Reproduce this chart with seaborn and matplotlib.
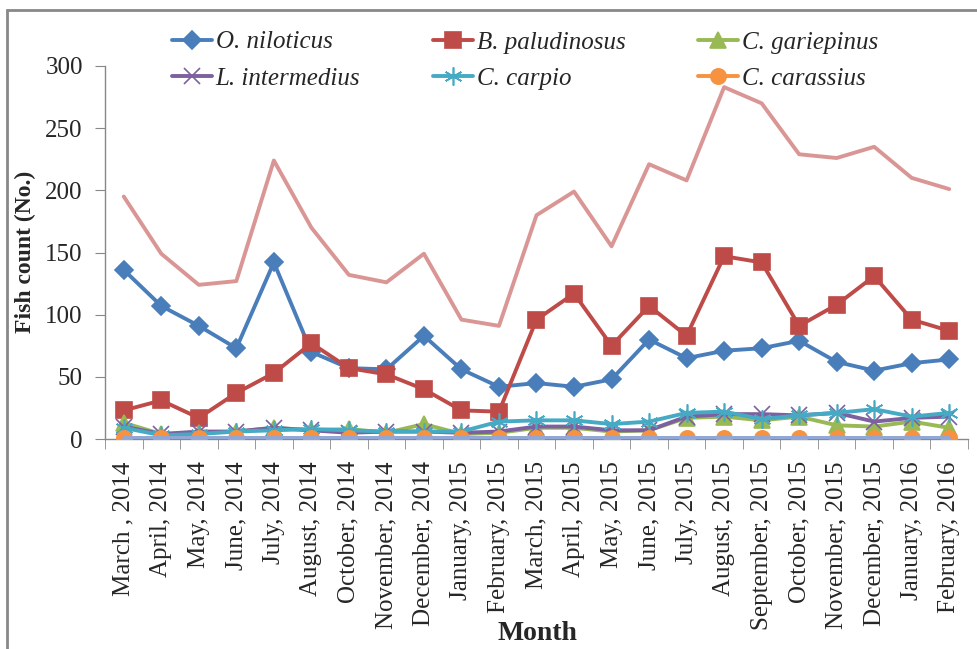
import pandas as pd
import matplotlib
matplotlib.use('Agg')
import matplotlib.pyplot as plt
import seaborn as sns
from matplotlib.patches import Rectangle

months = ["March , 2014", "April, 2014", "May, 2014", "June, 2014", "July, 2014",
          "August, 2014", "October, 2014", "November, 2014", "December, 2014",
          "January, 2015", "February, 2015", "March, 2015", "April, 2015", "May, 2015",
          "June, 2015", "July, 2015", "August, 2015", "September, 2015", "October, 2015",
          "November, 2015", "December, 2015", "January, 2016", "February, 2016"]

niloticus = [136, 107, 91, 73, 142, 70, 57, 56, 83, 56, 42, 45, 42, 48, 80, 65, 71, 73, 79, 62, 55, 61, 64]
paludinosus = [23, 31, 17, 37, 53, 77, 57, 52, 40, 23, 22, 96, 117, 75, 107, 83, 147, 142, 91, 108, 131, 96, 87]
gariepinus = [13, 4, 5, 6, 9, 7, 8, 5, 12, 4, 5, 9, 9, 6, 7, 17, 18, 15, 18, 11, 10, 14, 9]
intermedius = [10, 4, 6, 6, 9, 7, 5, 6, 6, 5, 6, 10, 10, 7, 7, 18, 20, 20, 19, 21, 14, 17, 18]
carpio = [9, 3, 4, 6, 7, 8, 7, 6, 6, 6, 14, 15, 15, 12, 14, 21, 22, 16, 19, 21, 24, 18, 21]
carassius = [1, 1, 1, 1, 1, 1, 1, 1, 1, 1, 1, 1, 1, 1, 1, 1, 1, 1, 1, 1, 1, 1, 1]
other = [1, 1, 1, 1, 1, 1, 1, 1, 1, 1, 1, 1, 1, 1, 1, 1, 1, 1, 1, 1, 1, 1, 1]
total = [195, 149, 124, 127, 224, 170, 132, 126, 149, 96, 91, 180, 199, 155, 221, 208, 283, 270, 229, 226, 235, 210, 201]

serif = ["Liberation Serif", "DejaVu Serif"]
sns.set_style("white")
plt.rcParams["font.family"] = serif

fig = plt.figure(figsize=(9.78, 6.49), dpi=100)
ax = fig.add_axes([105 / 978, 1 - 439 / 649, 863 / 978, 373 / 649])

x = list(range(len(months)))
series = [
    ("O. niloticus", niloticus, "#4A7EBB", "D", 9),
    ("B. paludinosus", paludinosus, "#BE4B48", "s", 11),
    ("C. gariepinus", gariepinus, "#98B954", "^", 11),
    ("L. intermedius", intermedius, "#7D60A0", "x", 11),
    ("C. carpio", carpio, "#46AAC5", (6, 2, 0), 13),
    ("C. carassius", carassius, "#F69240", "o", 11),
]
for name, vals, col, mk, ms in series:
    sns.lineplot(x=x, y=vals, ax=ax, color=col, marker=mk, markersize=ms,
                 markeredgecolor=col, markeredgewidth=1.2, linewidth=2.8,
                 label=name, zorder=3)
sns.lineplot(x=x, y=other, ax=ax, color="#8FA8D8", linewidth=2.8, legend=False, zorder=4)
sns.lineplot(x=x, y=total, ax=ax, color="#D99694", linewidth=2.8, legend=False, zorder=4)

ax.set_xlim(-0.5, len(months) - 0.5)
ax.set_ylim(0, 300)
ax.set_yticks(range(0, 301, 50))
ax.set_xticks(x)
ax.set_xticklabels(months, rotation=90, fontsize=18)
ax.tick_params(axis="x", length=0, pad=16)
ax.set_xticks([i - 0.5 for i in range(len(months) + 1)], minor=True)
ax.tick_params(axis="x", which="minor", direction="out", length=7, color="#888888", bottom=True)
ax.tick_params(axis="y", direction="out", length=7, color="#888888", labelsize=18, left=True, pad=9)
for s in ["top", "right"]:
    ax.spines[s].set_visible(False)
for s in ["left", "bottom"]:
    ax.spines[s].set_color("#888888")
    ax.spines[s].set_linewidth(1)
ax.set_xlabel("")
ax.set_ylabel("")

fig.text(25 / 978, 1 - 252 / 649, "Fish count (No.)", rotation=90, ha="center", va="center",
         fontsize=17, fontweight="bold")
fig.text(537 / 978, 1 - 634 / 649, "Month", ha="center", va="center", fontsize=20, fontweight="bold")

handles, labels = ax.get_legend_handles_labels()
ax.legend_.remove()
order = [0, 3, 1, 4, 2, 5]
fig.legend([handles[i] for i in order], [labels[i] for i in order], ncol=3, frameon=False,
           loc="upper left", bbox_to_anchor=(172 / 978, 1 - 31 / 649),
           prop={"family": serif, "style": "italic", "size": 18},
           handlelength=1.6, handletextpad=0.15, columnspacing=2.9, labelspacing=0.55,
           borderpad=0, borderaxespad=0)

fig.add_artist(Rectangle((7 / 978, -0.1), 1.2, 1 - 10 / 649 + 0.1, transform=fig.transFigure,
                         fill=False, edgecolor="#888888", linewidth=2, clip_on=False))

fig.savefig("out.png", dpi=100)
